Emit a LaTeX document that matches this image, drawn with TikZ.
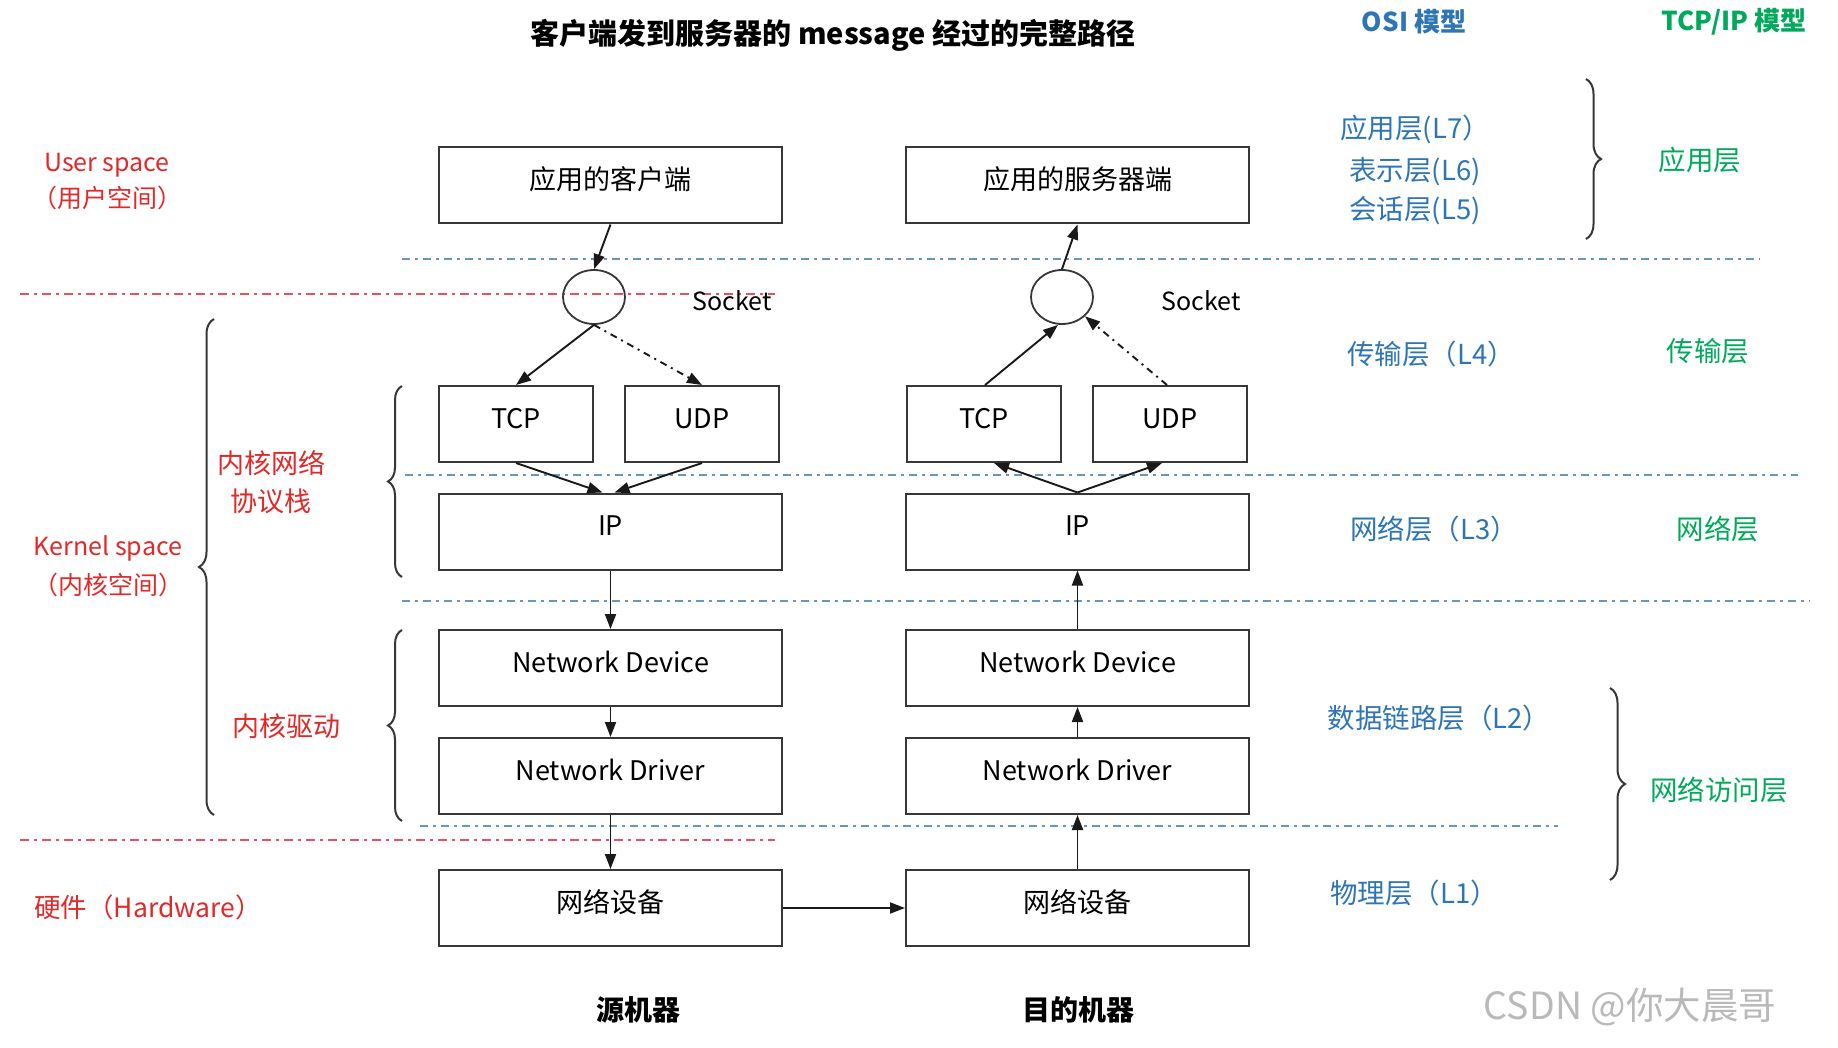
\documentclass[tikz,border=0pt]{standalone}
\usepackage{fontspec}
\setmainfont{Noto Sans CJK SC}
\usetikzlibrary{arrows.meta,shapes.geometric,decorations.pathreplacing}
\definecolor{gris}{RGB}{55,55,55}
\definecolor{rougeTxt}{RGB}{226,40,40}
\definecolor{rougeLigne}{RGB}{232,80,100}
\definecolor{bleuTxt}{RGB}{46,117,182}
\definecolor{bleuLigne}{RGB}{105,150,190}
\definecolor{vertTxt}{RGB}{0,170,90}
\definecolor{filigrane}{RGB}{185,185,185}
\begin{document}
\begin{tikzpicture}[x=1pt,y=-1pt,
  boite/.style={draw=gris,line width=2pt,minimum width=343pt,minimum height=76pt,inner sep=0pt,text height=17pt,text depth=9pt,font=\fontsize{27}{30}\selectfont},
  petiteboite/.style={boite,minimum width=154pt},
  prise/.style={draw=gris,line width=1.8pt,ellipse,minimum width=62pt,minimum height=54pt,inner sep=0pt},
  fleche/.style={-{Triangle[length=15pt,width=11pt]},line width=1.9pt,black!90},
  pointille/.style={fleche,dash pattern=on 7pt off 5pt on 2pt off 5pt},
  separBleu/.style={bleuLigne,line width=2.5pt,dash pattern=on 8pt off 5pt on 3pt off 5pt},
  separRouge/.style={rougeLigne,line width=2.5pt,dash pattern=on 9pt off 5pt on 3pt off 5pt},
  accolade/.style={decorate,decoration={brace,amplitude=#1},draw=gris,line width=2pt},
  etiq/.style={font=\fontsize{27.5}{36}\selectfont,align=center,inner sep=0pt}]

\useasboundingbox (0,0) rectangle (1838,1048);

%%%%%%%%%%%%%%%%%%%%%%%%
% lignes de separation des couches
%%%%%%%%%%%%%%%%%%%%%%%%
    \foreach \y/\xa/\xb in {259/402/1760,475/405/1798,601/402/1810,826/420/1558}
      {\draw[separBleu] (\xa,\y)--(\xb,\y);}
    \foreach \y in {294,840}
      {\draw[separRouge] (20,\y)--(775,\y);}

%%%%%%%%%%%%%%%%%%%%%%%%
% les deux machines
%%%%%%%%%%%%%%%%%%%%%%%%
    %Abscisses des colonnes
    \def \ColS {610.5}
    \def \ColD {1077.5}

    \node[boite] (app1) at (\ColS,185.5) {应用的客户端};
    \node[boite] (app2) at (\ColD,185.5) {应用的服务器端};
    \node[prise] (sock1) at (594,297) {};
    \node[prise] (sock2) at (1062,297) {};
    \node[petiteboite] (tcp1) at (516,424) {TCP};
    \node[petiteboite] (udp1) at (702,424) {UDP};
    \node[petiteboite] (tcp2) at (984,424) {TCP};
    \node[petiteboite] (udp2) at (1170,424) {UDP};
    \foreach \nom/\y/\texte in {ip/531.5/IP,nd/668/Network Device,ndr/776/Network Driver,hw/908/网络设备}
      {\node[boite] (\nom1) at (\ColS,\y) {\texte};
       \node[boite] (\nom2) at (\ColD,\y) {\texte};}

    \node[etiq,font=\fontsize{25}{30}\selectfont] (sockLbl1) at (732,301) {Socket};
    \node[etiq,font=\fontsize{25}{30}\selectfont] (sockLbl2) at (1201,301) {Socket};

    % chemin de la source
    \draw[fleche] (app1.south)--(sock1.north);
    \draw[fleche] (sock1.south)--(tcp1.north);
    \draw[pointille] (sock1.south)--(udp1.north);
    \draw[fleche] (tcp1.south)--([xshift=-8pt]ip1.north);
    \draw[fleche] (udp1.south)--([xshift=4pt]ip1.north);
    \draw[fleche] (ip1)--(nd1);
    \draw[fleche] (nd1)--(ndr1);
    \draw[fleche] (ndr1)--(hw1);
    \draw[fleche] (hw1)--(hw2);
    % chemin de la destination
    \draw[fleche] (hw2)--(ndr2);
    \draw[fleche] (ndr2)--(nd2);
    \draw[fleche] (nd2)--(ip2);
    \draw[fleche] (ip2.north)--([xshift=10pt]tcp2.south);
    \draw[fleche] (ip2.north)--([xshift=-8pt]udp2.south);
    \draw[fleche] ([xshift=1pt]tcp2.north)--([xshift=-4pt]sock2.south);
    \draw[pointille] ([xshift=-3pt]udp2.north)--(sock2.-40);
    \draw[fleche] (sock2.north)--(app2.south);

    \node[font=\bfseries\fontsize{28}{30}\selectfont] (src) at (638,1010) {源机器};
    \node[font=\bfseries\fontsize{28}{30}\selectfont] (dst) at (1078,1010) {目的机器};

%%%%%%%%%%%%%%%%%%%%%%%%
% titre et espaces (gauche)
%%%%%%%%%%%%%%%%%%%%%%%%
    \node[font=\bfseries\fontsize{29}{32}\selectfont] (titre) at (833,35) {客户端发到服务器的 message 经过的完整路径};

    \node[etiq,text=rougeTxt,font=\fontsize{25}{36}\selectfont] (userLbl) at (107,182) {User space\\（用户空间）};
    \node[etiq,text=rougeTxt,font=\fontsize{25}{39}\selectfont] (kernelLbl) at (108,566) {Kernel space\\（内核空间）};
    \node[etiq,text=rougeTxt,font=\fontsize{27}{38}\selectfont] (stackLbl) at (271,482) {内核网络\\协议栈};
    \node[etiq,text=rougeTxt,font=\fontsize{27}{38}\selectfont] (driverLbl) at (286,726) {内核驱动};
    \node[etiq,text=rougeTxt,font=\fontsize{26.5}{30}\selectfont] (hwLbl) at (148,907) {硬件（Hardware）};

    \draw[accolade=15pt] (214,815)--(214,319);
    \draw[accolade=14pt] (402,577)--(402,386);
    \draw[accolade=14pt] (402,821)--(402,630);

%%%%%%%%%%%%%%%%%%%%%%%%
% modeles OSI et TCP/IP (droite)
%%%%%%%%%%%%%%%%%%%%%%%%
    \node[text=bleuTxt,font=\bfseries\fontsize{26}{30}\selectfont] (osiTitre) at (1414,22) {OSI 模型};
    \node[text=vertTxt,font=\bfseries\fontsize{26}{30}\selectfont] (tcpTitre) at (1734,22) {TCP/IP 模型};

    \foreach \nom/\x/\y/\texte in {osiL7/1415/129/应用层(L7）,osiL6/1415/172/表示层(L6),osiL5/1415/211/会话层(L5),osiL4/1431/354/传输层（L4）,osiL3/1434/529/网络层（L3）,osiL2/1439/718/数据链路层（L2）,osiL1/1414/893/物理层（L1）}
      {\node[etiq,text=bleuTxt] (\nom) at (\x,\y) {\texte};}
    \foreach \nom/\x/\y/\texte in {tcpApp/1700/160/应用层,tcpTrans/1708/351/传输层,tcpRes/1718/529/网络层,tcpAcces/1719/790/网络访问层}
      {\node[etiq,text=vertTxt] (\nom) at (\x,\y) {\texte};}

    \draw[accolade=15pt] (1586,79)--(1586,239);
    \draw[accolade=15pt] (1610,688)--(1610,880);

    \node[text=filigrane,font=\fontsize{37.5}{40}\selectfont] (csdn) at (1630,1007) {CSDN @你大晨哥};

\end{tikzpicture}
\end{document}
